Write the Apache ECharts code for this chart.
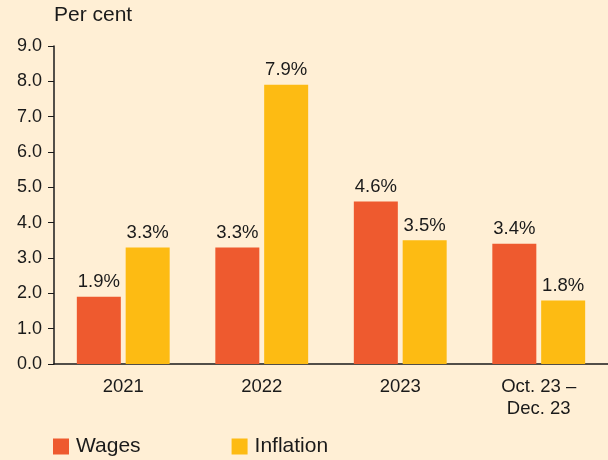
<!DOCTYPE html>
<html>
<head>
<meta charset="utf-8">
<script src="https://cdn.jsdelivr.net/npm/echarts@6/dist/echarts.min.js"></script>
<style>
  html, body { margin: 0; padding: 0; background: #FFEFD5; }
  #main { width: 608px; height: 460px; }
</style>
</head>
<body>
<div id="main"></div>
<script>
var categories = ['2021', '2022', '2023', 'Oct. 23 –\nDec. 23'];
var wages = [1.9, 3.3, 4.6, 3.4];
var inflation = [3.3, 7.9, 3.5, 1.8];
var yTicks = { min: 0, max: 9, interval: 1 };

var font = 'Liberation Sans, Arial, sans-serif';
var myChart = echarts.init(document.getElementById('main'));

var barLabel = {
    show: true,
    position: 'top',
    distance: 5,
    color: '#1a1a1a',
    fontFamily: font,
    fontSize: 18.5,
    formatter: function (p) { return p.value.toFixed(1) + '%'; }
};

let option = {
    backgroundColor: '#FFEFD5',
    animation: false,
    title: {
        text: 'Per cent',
        left: 49,
        top: 0,
        textStyle: { color: '#1a1a1a', fontFamily: font, fontSize: 21, fontWeight: 'normal' }
    },
    legend: {
        left: 48,
        top: 431,
        itemWidth: 16,
        itemHeight: 16,
        itemGap: 91,
        icon: 'rect',
        textStyle: { color: '#1a1a1a', fontFamily: font, fontSize: 21, padding: [0, 0, 0, 2] },
        data: ['Wages', 'Inflation']
    },
    grid: { left: 54, right: 0, top: 46, bottom: 96 },
    xAxis: {
        type: 'category',
        data: categories,
        axisLine: { lineStyle: { color: '#1a1a1a', width: 1.5 } },
        axisTick: { alignWithLabel: true, length: 6, lineStyle: { color: '#1a1a1a' } },
        axisLabel: { color: '#1a1a1a', fontFamily: font, fontSize: 18.5, margin: 12, lineHeight: 22 }
    },
    yAxis: {
        type: 'value',
        min: yTicks.min,
        max: yTicks.max,
        interval: yTicks.interval,
        axisLine: { show: true, lineStyle: { color: '#1a1a1a', width: 1.5 } },
        axisTick: { show: true, length: 6, lineStyle: { color: '#1a1a1a' } },
        splitLine: { show: false },
        axisLabel: {
            color: '#1a1a1a', fontFamily: font, fontSize: 18, margin: 12,
            formatter: function (v) { return v.toFixed(1); }
        }
    },
    series: [
        {
            name: 'Wages',
            type: 'bar',
            data: wages,
            barWidth: 44,
            barGap: '11%',
            itemStyle: { color: '#EE5A2F' },
            label: barLabel
        },
        {
            name: 'Inflation',
            type: 'bar',
            data: inflation,
            barWidth: 44,
            itemStyle: { color: '#FDBB13' },
            label: barLabel
        }
    ]
};

myChart.setOption(option);
</script>
</body>
</html>
